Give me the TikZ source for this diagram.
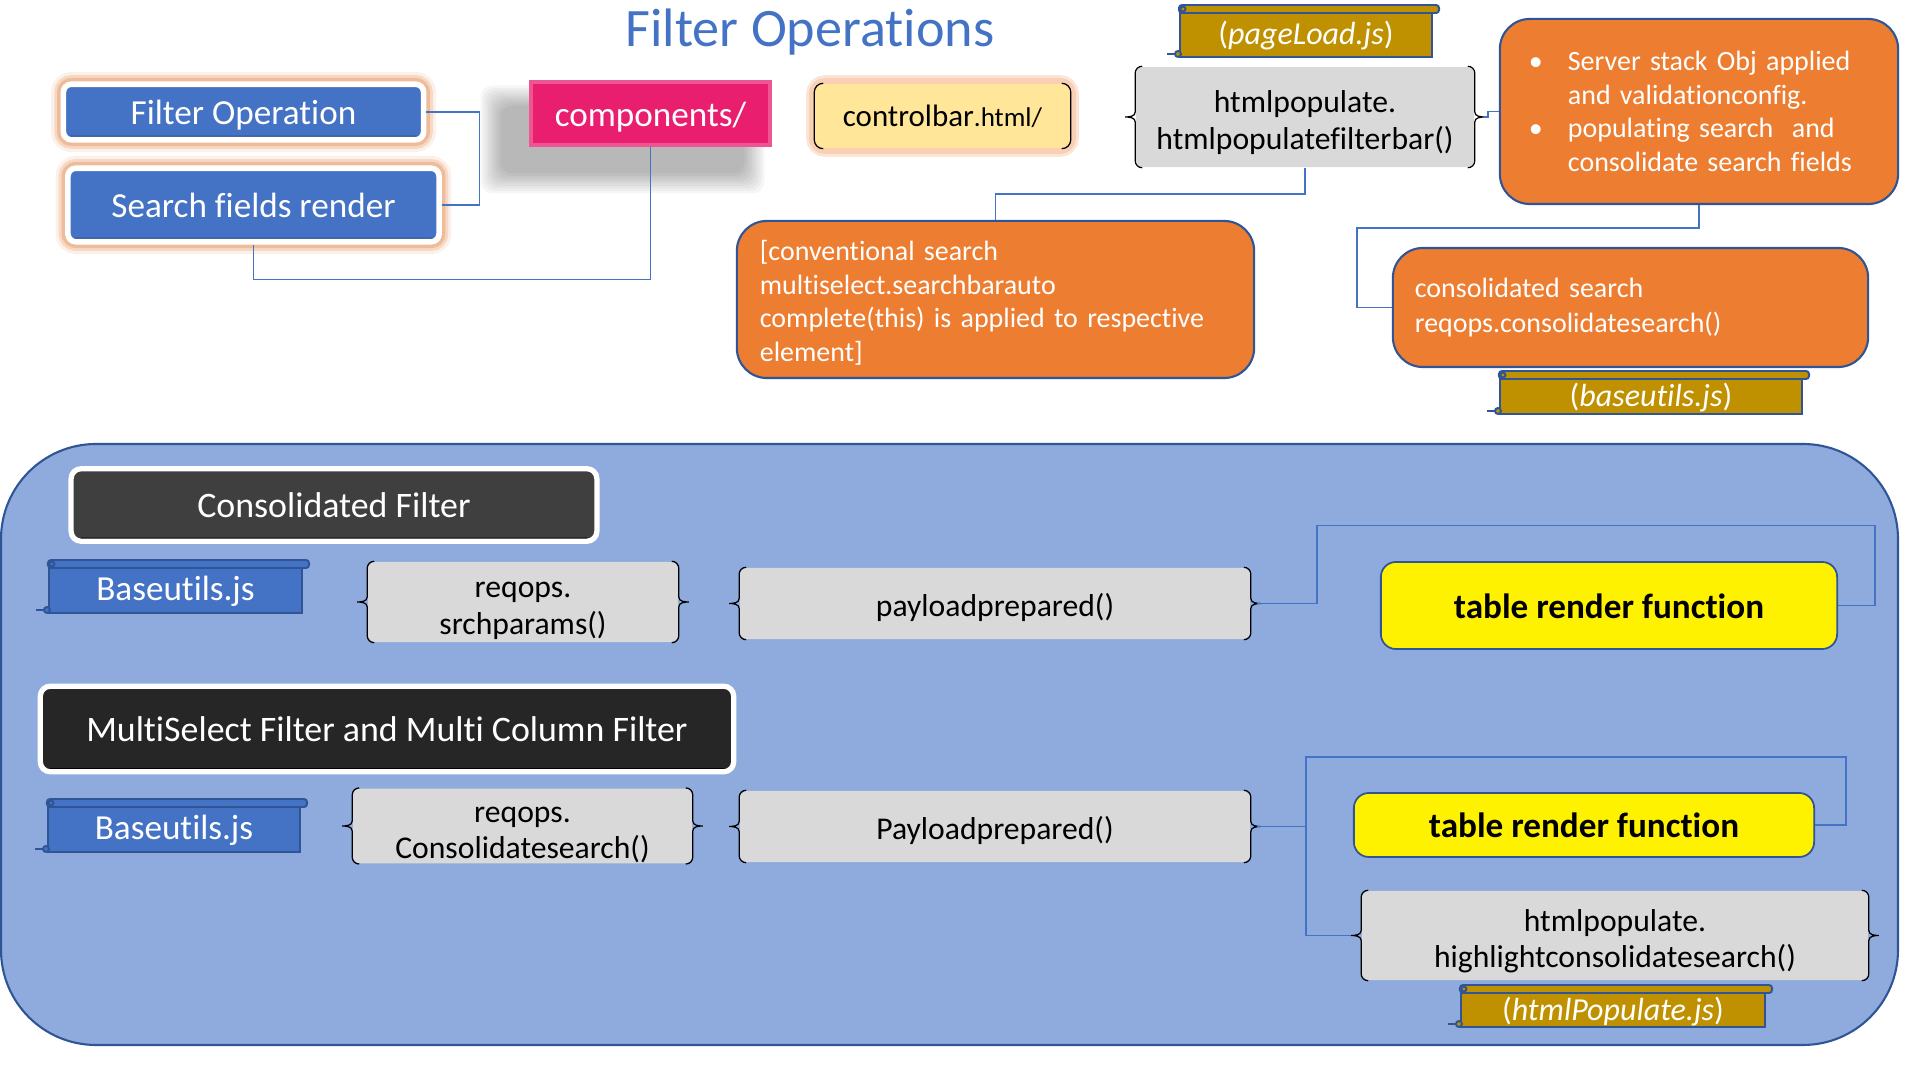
\documentclass[tikz,border=0pt]{standalone}
\usepackage{fontspec}
\setmainfont{Carlito}[Ligatures={NoCommon}]
\definecolor{fopblue}{HTML}{4472C4}
\definecolor{fopdark}{HTML}{2F528F}
\definecolor{fopglow}{HTML}{E8A070}
\definecolor{edgeblue}{HTML}{2F5597}
\definecolor{pinkfill}{HTML}{E91E6F}
\definecolor{barfill}{HTML}{FFE699}
\definecolor{barglow}{HTML}{F8CBAD}
\definecolor{goldfill}{HTML}{BF9000}
\definecolor{notefill}{HTML}{ED7D31}
\definecolor{grayfill}{HTML}{D9D9D9}
\definecolor{regionfill}{HTML}{8FAADC}
\definecolor{darkone}{HTML}{3F3F3F}
\definecolor{darktwo}{HTML}{262626}

\newcommand{\fsTitle}{\fontsize{15.4}{18}\selectfont}
\newcommand{\fsHead}{\fontsize{10.2}{12}\selectfont}
\newcommand{\fsBox}{\fontsize{10}{12}\selectfont}
\newcommand{\fsGray}{\fontsize{9}{10.5}\selectfont}
\newcommand{\fsScroll}{\fontsize{9.1}{11}\selectfont}
\newcommand{\fsNote}{\fontsize{7.95}{9.5}\selectfont}
\newcommand{\gtop}{\rule{0pt}{9.5pt}}

\tikzset{
  oneline/.style={text height=7.2pt, text depth=0pt},
  link/.style={draw=fopblue, line width=0.45pt},
  glowbox/.style={fill=fopblue, draw=white, line width=1.6pt, rounded corners=0.08cm,
    text=white, font=\fsBox, inner sep=0pt, oneline,
    preaction={draw=fopglow, line width=7pt, opacity=0.15},
    preaction={draw=fopglow, line width=5.2pt, opacity=0.3},
    preaction={draw=fopglow, line width=3.6pt, opacity=0.5},
    path picture={\fill[fopdark] (path picture bounding box.south west) rectangle ([yshift=1.2pt]path picture bounding box.south east);}},
  darkbox/.style={fill=#1, draw=white, line width=1.5pt, rounded corners=0.1cm,
    text=white, font=\fsHead, inner sep=0pt, oneline,
    path picture={\fill[black] (path picture bounding box.south west) rectangle ([yshift=1pt]path picture bounding box.south east);}},
  pinkbox/.style={fill=pinkfill, draw=pinkfill!75!white, line width=1pt, text=white, font=\fsBox, inner sep=0pt, oneline},
  barbox/.style={fill=barfill, rounded corners=0.1cm, inner sep=0pt,
    preaction={draw=barglow, line width=5pt, opacity=0.5},
    preaction={draw=barglow, line width=3.4pt, opacity=0.8}},
  scrollbox/.style={draw=edgeblue, line width=0.55pt, text=white, font=\fsScroll, inner sep=0pt,
    text height=7.4pt, text depth=0pt},
  graybox/.style={fill=grayfill, rounded corners=0.07cm, align=center, font=\fsGray, inner sep=0pt},
  notebox/.style={fill=notefill, draw=edgeblue, line width=0.6pt, rounded corners=0.3cm,
    text=white, font=\fsNote, align=left},
  tablebox/.style={fill=yellow, draw=edgeblue, line width=0.5pt, rounded corners=0.15cm,
    font=\fsBox\bfseries, inner sep=0pt, oneline},
  brace/.style={draw=black, line width=0.35pt},
  region/.style={fill=regionfill, draw=edgeblue, line width=0.6pt, rounded corners=0.95cm}
}

\newcommand{\bracesides}[1]{%
  \draw[brace] ([shift={(7,0)}]#1.north west) to[out=180,in=90] ([shift={(0,7)}]#1.north west)
    -- ([shift={(0,-5)}]#1.west) to[out=-90,in=0] ([shift={(-10,0)}]#1.west)
    to[out=0,in=90] ([shift={(0,5)}]#1.west) -- ([shift={(0,-7)}]#1.south west)
    to[out=-90,in=180] ([shift={(7,0)}]#1.south west);
  \draw[brace] ([shift={(-7,0)}]#1.north east) to[out=0,in=90] ([shift={(0,7)}]#1.north east)
    -- ([shift={(0,-5)}]#1.east) to[out=-90,in=180] ([shift={(10,0)}]#1.east)
    to[out=180,in=90] ([shift={(0,5)}]#1.east) -- ([shift={(0,-7)}]#1.south east)
    to[out=-90,in=0] ([shift={(-7,0)}]#1.south east);
}
\newcommand{\bracketsides}[1]{%
  \draw[brace] ([shift={(9,0)}]#1.north west) to[out=180,in=90] ([shift={(0,9)}]#1.north west)
    -- ([shift={(0,-9)}]#1.south west) to[out=-90,in=180] ([shift={(9,0)}]#1.south west);
  \draw[brace] ([shift={(-9,0)}]#1.north east) to[out=0,in=90] ([shift={(0,9)}]#1.north east)
    -- ([shift={(0,-9)}]#1.south east) to[out=-90,in=0] ([shift={(-9,0)}]#1.south east);
}
\newcommand{\scrolltrim}[2]{%
  \draw[scrollbox, fill=#2, rounded corners=0.03cm] ([shift={(0,-1)}]#1.north west) rectangle ([shift={(6,7)}]#1.north east);
  \draw[scrollbox] ([shift={(4,3)}]#1.north west) circle[radius=2.5];
  \draw[scrollbox, fill=#2] ([shift={(-1,-4)}]#1.south west) circle[radius=3];
  \draw[scrollbox] ([shift={(-4,-4)}]#1.south west) -- ++(-8,0);
}

\begin{document}
\begin{tikzpicture}[x=0.01cm,y=-0.01cm]
  \useasboundingbox (0,0) rectangle (1920,1080);

  \node (title) at (810,47) [anchor=base, text=fopblue, font=\fsTitle] {Filter Operations};

  \node (fop) at (243.5,112) [glowbox, minimum width=3.6cm, minimum height=0.555cm] {Filter Operation};
  \node (sfr) at (253.5,205) [glowbox, minimum width=3.71cm, minimum height=0.735cm] {Search fields render};

  \foreach \i in {1,...,9}
    \fill[black, opacity=0.035, rounded corners=0.12cm] ({503-2.5*\i},{108-2.5*\i}) rectangle ({742+2.5*\i},{171+2.5*\i});
  \node (comp) at (650.5,113.5) [pinkbox, minimum width=2.39cm, minimum height=0.63cm] {components/};

  \node (cbar) at (942.5,116) [barbox, minimum width=2.55cm, minimum height=0.64cm]
    {{\fontsize{8.8}{10}\selectfont controlbar}{\fontsize{7.7}{10}\selectfont .html/}};
  \bracketsides{cbar}

  \node (pload) at (1306,32) [scrollbox, fill=goldfill, minimum width=2.52cm, minimum height=0.5cm] {({\itshape pageLoad.js})};
  \scrolltrim{pload}{goldfill}

  \node (hpop) at (1305,117) [graybox, minimum width=3.38cm, minimum height=1cm] {\gtop htmlpopulate.\\htmlpopulatefilterbar()};
  \bracesides{hpop}

  \node (srv) at (1699,111.5) [notebox, minimum width=3.98cm, minimum height=1.85cm, inner xsep=0.29cm, text width=3.4cm]
    {\makebox[0.39cm][l]{\textbullet}Server stack Obj applied\\
     \hspace*{0.39cm}and validationconfig.\\
     \makebox[0.39cm][l]{\textbullet}populating search\ \ and\\
     \hspace*{0.39cm}consolidate search fields};

  \node (conv) at (995.5,299.5) [notebox, minimum width=5.17cm, minimum height=1.57cm, inner xsep=0.23cm, text width=4.71cm]
    {\rule{0pt}{7.6pt}[conventional search\\multiselect.searchbarauto\\complete(this) is applied to respective\\element]};

  \node (cons) at (1630.5,307.5) [notebox, minimum width=4.75cm, minimum height=1.19cm, inner xsep=0.22cm, text width=4.31cm,
    font=\fontsize{7.95}{9.96}\selectfont] {consolidated search\\reqops.consolidatesearch()};

  \node (bgold) at (1651,393.5) [scrollbox, fill=goldfill, minimum width=3.02cm, minimum height=0.41cm] {({\itshape baseutils.js})};
  \scrolltrim{bgold}{goldfill}

  \draw[link] (fop.east) -- ++(53,0) |- (sfr.east);
  \draw[link] (sfr.south) -- ++(0,35) -| (comp.south);
  \draw[link] ([shift={(9,0)}]hpop.east) -- ++(4,0) |- (srv.west);
  \draw[link] (hpop.south) -- ++(0,26) -| (conv.north);
  \draw[link] (srv.south) |- ++(-342,23) |- (cons.west);

  \draw[region] (1,444) rectangle (1898,1045);

  \node (cfilt) at (334,505) [darkbox=darkone, minimum width=5.255cm, minimum height=0.725cm] {Consolidated Filter};
  \node (bblue) at (175.5,587.5) [scrollbox, fill=fopblue, font=\fsBox, minimum width=2.53cm, minimum height=0.51cm] {Baseutils.js};
  \scrolltrim{bblue}{fopblue}
  \node (rqsrch) at (523,602) [graybox, minimum width=3.1cm, minimum height=0.8cm] {\gtop reqops.\\srchparams()};
  \bracesides{rqsrch}
  \node (pay) at (995,603.5) [graybox, oneline, minimum width=5.1cm, minimum height=0.71cm] {payloadprepared()};
  \bracesides{pay}
  \node (trone) at (1609,605.5) [tablebox, minimum width=4.56cm, minimum height=0.87cm] {table render function};
  \draw[link] ([shift={(6,0)}]pay.east) -| ([shift={(-63,-80)}]trone.west) -| ([shift={(37,0)}]trone.east) -- (trone.east);

  \node (mfilt) at (387,729) [darkbox=darktwo, minimum width=6.93cm, minimum height=0.855cm] {MultiSelect Filter and Multi Column Filter};
  \node (bbluetwo) at (174,826.5) [scrollbox, fill=fopblue, font=\fsBox, minimum width=2.52cm, minimum height=0.51cm] {Baseutils.js};
  \scrolltrim{bbluetwo}{fopblue}
  \node (rqcons) at (522.5,826) [graybox, minimum width=3.39cm, minimum height=0.72cm] {\gtop reqops.\\Consolidatesearch()};
  \bracesides{rqcons}
  \node (paytwo) at (995,826.5) [graybox, oneline, minimum width=5.1cm, minimum height=0.71cm] {Payloadprepared()};
  \bracesides{paytwo}
  \node (trtwo) at (1584,825) [tablebox, minimum width=4.6cm, minimum height=0.64cm] {table render function};
  \node (hpoptwo) at (1615,935.5) [graybox, minimum width=5.06cm, minimum height=0.89cm] {\gtop htmlpopulate.\\highlightconsolidatesearch()};
  \bracesides{hpoptwo}
  \node (hjs) at (1613,1007) [scrollbox, fill=goldfill, minimum width=3.04cm, minimum height=0.4cm] {({\itshape htmlPopulate.js})};
  \scrolltrim{hjs}{goldfill}

  \coordinate (jtwo) at ([shift={(55,0)}]paytwo.east);
  \draw[link] ([shift={(6,0)}]paytwo.east) -- (jtwo) |- ([shift={(31,-68)}]trtwo.east) |- (trtwo.east);
  \draw[link] (jtwo) |- ([shift={(-10,0)}]hpoptwo.west);
\end{tikzpicture}
\end{document}
